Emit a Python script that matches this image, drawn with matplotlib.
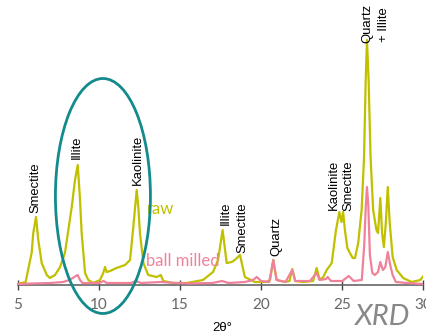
import matplotlib
matplotlib.use('Agg')
import matplotlib.pyplot as plt
from matplotlib.patches import Ellipse
import numpy as np

# raw sample (2theta, intensity a.u.)
raw_2theta = [5.0, 5.5, 5.87, 5.97, 6.14, 6.28, 6.49, 6.8, 7.0, 7.31, 7.62, 7.92, 8.13, 8.34,
              8.54, 8.71, 8.85, 8.95, 9.16, 9.36, 9.67, 10.08, 10.28, 10.39, 10.49, 10.7,
              11.1, 11.62, 11.93, 12.13, 12.34, 12.44, 12.54, 12.75, 13.05, 13.57, 13.82,
              13.98, 14.58, 15.42, 16.42, 17.04, 17.35, 17.63, 17.88, 18.2, 18.45, 18.7,
              19.0, 19.62, 20.3, 20.55, 20.75, 20.96, 21.5, 21.75, 21.92, 22.1, 22.6, 23.2,
              23.42, 23.6, 23.8, 24.04, 24.35, 24.61, 24.82, 24.95, 25.05, 25.16, 25.31,
              25.47, 25.64, 25.78, 25.98, 26.19, 26.34, 26.44, 26.52, 26.62, 26.74, 26.9,
              27.1, 27.2, 27.34, 27.45, 27.56, 27.68, 27.8, 27.92, 28.1, 28.35, 28.75,
              29.27, 29.8, 30.0]
raw_int = [1, 3, 32, 52, 68, 45, 22, 10, 7, 10, 18, 32, 55, 78,
           105, 120, 85, 52, 12, 5, 2, 5, 12, 18, 13, 14,
           17, 20, 25, 58, 95, 78, 52, 22, 10, 8, 10,
           4, 2, 2, 5, 13, 25, 55, 22, 23, 26, 30,
           8, 3, 3, 5, 25, 5, 3, 4, 16, 4, 3, 4,
           17, 6, 7, 15, 22, 55, 73, 63, 73, 55, 37,
           32, 27, 27, 42, 75, 128, 205, 245, 205, 128, 75,
           55, 52, 87, 52, 38, 62, 98, 62, 28, 15, 7,
           3, 5, 9]

# ball milled sample
bm_2theta = [5.0, 6.0, 7.0, 7.8, 8.2, 8.5, 8.7, 8.85, 9.0, 10.0, 10.3, 10.5, 12.0, 12.3, 12.6,
             13.8, 14.8, 15.5, 17.0, 17.6, 18.0, 19.0, 19.5, 19.73, 20.0, 20.5, 20.75,
             20.95, 21.5, 21.92, 22.1, 23.0, 23.42, 23.6, 24.0, 24.1, 24.3, 25.0, 25.4,
             25.7, 26.2, 26.35, 26.45, 26.52, 26.6, 26.7, 26.85, 27.0, 27.2, 27.34, 27.5,
             27.65, 27.8, 27.95, 28.1, 28.3, 29.0, 30.0]
bm_int = [1, 1.5, 2, 3, 5, 8, 10, 5, 2, 2, 4, 2, 2, 4, 2,
          3, 2, 1.5, 2, 4, 2, 3, 5, 8, 4, 3, 25,
          5, 3, 15, 4, 4, 12, 5, 6, 8, 4, 4, 9,
          4, 5, 40, 80, 98, 80, 30, 12, 10, 13, 23, 15,
          18, 33, 20, 10, 3, 2, 1]

# peak annotations
peak_names = ['Smectite', 'Illite', 'Kaolinite', 'Illite', 'Smectite', 'Quartz',
              'Kaolinite', 'Smectite', 'Quartz', '+ Illite']
peak_x = [6.08, 8.66, 12.42, 17.84, 18.84, 20.92, 24.47, 25.35, 26.52, 27.55]
peak_y = [72, 126, 100, 60, 32, 29, 75, 74, 242, 243]

raw_col = '#c0c000'
bm_col = '#f0819b'

fig = plt.figure(figsize=(4.27, 3.35), dpi=100)
ax = fig.add_axes([17.5 / 427, 50 / 335, 406 / 427, 285 / 335])

ax.plot(raw_2theta, raw_int, color=raw_col, lw=1.6, zorder=2, solid_joinstyle='round')
ax.plot(bm_2theta, bm_int, color=bm_col, lw=1.6, zorder=3, solid_joinstyle='round')

for name, x, y in zip(peak_names, peak_x, peak_y):
    ax.text(x, y, name, rotation=90, ha='center', va='bottom', fontsize=9.4,
            family='Liberation Sans', color='black')

ax.text(12.97, 76, 'raw', color=raw_col, fontsize=12, family='Lato', va='center', ha='left')
ax.text(12.9, 24, 'ball milled', color=bm_col, fontsize=12, family='Lato', va='center', ha='left')

ell = Ellipse((10.26, 89), 5.85, 235, fill=False, ec='#138a8c', lw=2, clip_on=False, zorder=5)
ax.add_patch(ell)

ax.set_xlim(5, 30)
ax.set_ylim(0, 285)
for s in ['top', 'right', 'left']:
    ax.spines[s].set_visible(False)
ax.spines['bottom'].set_color('#666666')
ax.spines['bottom'].set_linewidth(1.2)
ax.set_yticks([])
ax.set_xticks([5, 10, 15, 20, 25, 30])
ax.tick_params(axis='x', direction='inout', length=7, width=1, color='#444444',
               labelcolor='#666666', labelsize=11, pad=6)
for lab in ax.get_xticklabels():
    lab.set_family('Lato')

fig.text(222 / 427, 1 - 328 / 335, '2θ°', ha='center', va='center', fontsize=9.5,
         family='Liberation Sans')
fig.text(383 / 427, 1 - 325 / 335, 'XRD', ha='center', va='baseline', fontsize=21,
         family='Lato', style='italic', color='#888888')

fig.savefig('out.png', dpi=100)
